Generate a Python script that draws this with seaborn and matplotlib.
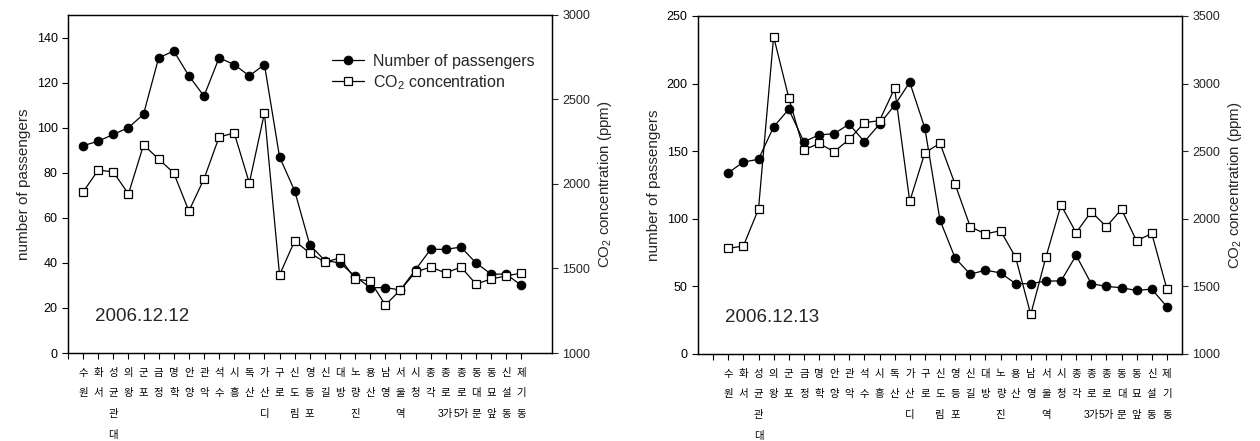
import matplotlib
matplotlib.use("Agg")
import matplotlib.pyplot as plt
import seaborn as sns
import pandas as pd

stations = ["수원", "화서", "성균관대", "의왕", "군포", "금정", "명학", "안양", "관악", "석수",
            "시흥", "독산", "가산디", "구로", "신도림", "영등포", "신길", "대방", "노량진", "용산",
            "남영", "서울역", "시청", "종각", "종로3가", "종로5가", "동대문", "동묘앞", "신설동", "제기동"]

passengers_1212 = [92, 94, 97, 100, 106, 131, 134, 123, 114, 131, 128, 123, 128, 87, 72,
                   48, 41, 40, 34, 29, 29, 28, 37, 46, 46, 47, 40, 35, 35, 30]
co2_1212 = [1953, 2083, 2071, 1941, 2231, 2148, 2065, 1840, 2030, 2278, 2302, 2006, 2420, 1462, 1663,
            1592, 1538, 1562, 1438, 1426, 1284, 1373, 1479, 1509, 1473, 1509, 1408, 1438, 1456, 1473]

passengers_1213 = [134, 142, 144, 168, 181, 157, 162, 163, 170, 157, 170, 184, 201, 167, 99,
                   71, 59, 62, 60, 52, 52, 54, 54, 73, 52, 50, 49, 47, 48, 35]
co2_1213 = [1781, 1799, 2072, 3347, 2896, 2509, 2558, 2496, 2588, 2711, 2726, 2965, 2129, 2489, 2558,
            2255, 1942, 1888, 1912, 1715, 1293, 1715, 2102, 1897, 2053, 1942, 2070, 1836, 1892, 1481]

dates = ["2006.12.12", "2006.12.13"]
legend_labels = ["Number of passengers", "CO$_{2}$ concentration"]

sns.set_style("ticks")
plt.rcParams["font.family"] = ["Liberation Sans", "Noto Sans CJK KR", "DejaVu Sans"]
plt.rcParams["mathtext.fontset"] = "custom"
plt.rcParams["mathtext.rm"] = "Liberation Sans"
plt.rcParams["mathtext.it"] = "Liberation Sans"
plt.rcParams["mathtext.default"] = "regular"


def vertical(name):
    parts = []
    i = 0
    while i < len(name):
        c = name[i]
        if c.isdigit() and i + 1 < len(name):
            parts.append(c + name[i + 1])
            i += 2
        else:
            parts.append(c)
            i += 1
    return "\n".join(parts)


vlabels = [vertical(s) for s in stations]

fig = plt.figure(figsize=(12.6, 4.41), dpi=100)
axL = fig.add_axes([68 / 1260, 88 / 441, 484 / 1260, 338 / 441])
axR = fig.add_axes([698 / 1260, 87 / 441, 484 / 1260, 338 / 441])

configs = [
    (axL, passengers_1212, co2_1212, dates[0], (0, 32.03), (0, 150), range(0, 141, 20), (1000, 3000)),
    (axR, passengers_1213, co2_1213, dates[1], (-1, 31), (0, 250), range(0, 251, 50), (1000, 3500)),
]

co2_label = "CO$_{2}$ concentration (ppm)"

for k, (ax, pas, co2, date, xlim, ylim, yticks, y2lim) in enumerate(configs):
    df = pd.DataFrame({"idx": range(1, len(stations) + 1), "pas": pas, "co2": co2})
    ax2 = ax.twinx()
    sns.lineplot(data=df, x="idx", y="pas", ax=ax, color="black", lw=0.9,
                 marker="o", markersize=6.2, markerfacecolor="black", markeredgecolor="black",
                 label=legend_labels[0], legend=False)
    sns.lineplot(data=df, x="idx", y="co2", ax=ax2, color="black", lw=0.9,
                 marker="s", markersize=5.6, markerfacecolor="white", markeredgecolor="black",
                 markeredgewidth=0.9, label=legend_labels[1], legend=False)
    ax.set_xlim(*xlim)
    ax.set_ylim(*ylim)
    ax.set_yticks(list(yticks))
    ax2.set_ylim(*y2lim)
    ax2.set_yticks(list(range(y2lim[0], y2lim[1] + 1, 500)))
    ax.set_xticks(list(range(0, len(stations) + 1)))
    ax.set_xticklabels([""] + vlabels, fontsize=7.5, linespacing=2.35, va="top")
    ax.set_xlabel("")
    ax.set_ylabel("number of passengers", fontsize=11)
    ax2.set_ylabel(co2_label, fontsize=10.8)
    ax.tick_params(axis="both", direction="out", length=4, width=0.8, labelsize=9, colors="black")
    ax.tick_params(axis="x", labelsize=7.5, pad=6.5)
    ax2.tick_params(axis="y", direction="out", length=4, width=0.8, labelsize=9)
    for a in (ax, ax2):
        for sp in a.spines.values():
            sp.set_visible(True)
            sp.set_linewidth(0.9)
            sp.set_color("black")
    ax.text(0.056, 0.107, date, transform=ax.transAxes, fontsize=13.5, va="center", ha="left")

    if k == 0:
        h1, l1 = ax.get_legend_handles_labels()
        h2, l2 = ax2.get_legend_handles_labels()
        ax2.legend(h1 + h2, l1 + l2, loc="upper left", bbox_to_anchor=(0.545, 0.885),
                   frameon=False, fontsize=11.5, handlelength=2.0, handletextpad=0.6,
                   labelspacing=0.25, borderpad=0, borderaxespad=0)

fig.savefig("out.png", dpi=100)
